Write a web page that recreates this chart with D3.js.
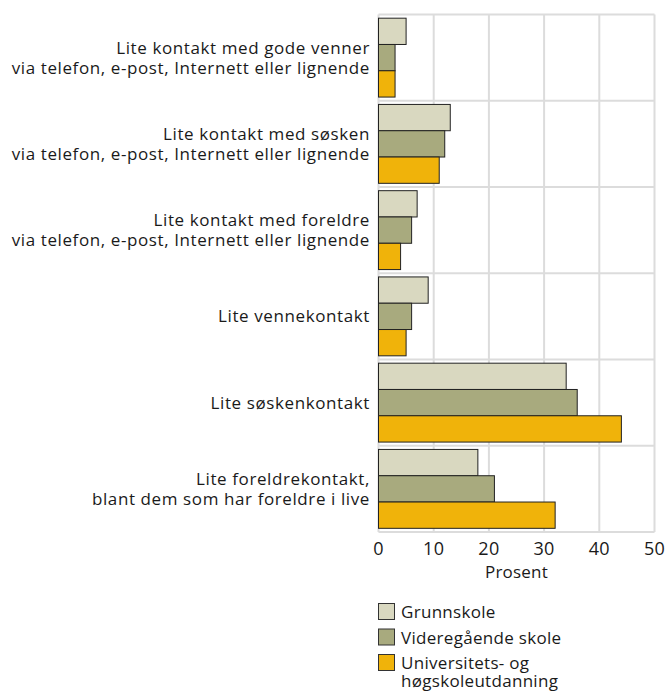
<!DOCTYPE html>
<html><head><meta charset="utf-8">
<script src="https://cdn.jsdelivr.net/npm/d3@7"></script>
<style>
body{margin:0;background:#fff;}
text{font-family:"Open Sans",sans-serif;fill:#1a1a1a;}
</style></head><body>
<svg id="c" width="667" height="691"></svg>
<script>
const categories = [
  ["Lite kontakt med gode venner","via telefon, e-post, Internett eller lignende"],
  ["Lite kontakt med søsken","via telefon, e-post, Internett eller lignende"],
  ["Lite kontakt med foreldre","via telefon, e-post, Internett eller lignende"],
  ["Lite vennekontakt"],
  ["Lite søskenkontakt"],
  ["Lite foreldrekontakt,","blant dem som har foreldre i live"]
];
const seriesNames = ["Grunnskole","Videregående skole","Universitets- og høgskoleutdanning"];
const grunnskole = [5,13,7,9,34,18];
const videregaende = [3,12,6,6,36,21];
const universitet = [3,11,4,5,44,32];
const xTicks = [0,10,20,30,40,50];
const colors = ["#d9d8c0","#a8aa7e","#f0b30a"];
const series = [grunnskole, videregaende, universitet];

const svg = d3.select("#c");
const pLeft = 378.5, pRight = 654.5, pTop = 14.5, pBottom = 532;
const x = d3.scaleLinear().domain([0,50]).range([pLeft,pRight]);
const y = d3.scaleBand().domain(d3.range(categories.length)).range([pTop,pBottom]);
const inner = d3.scaleBand().domain(d3.range(3)).range([0, y.bandwidth()]).paddingOuter(0.14).paddingInner(0);

// grid
const grid = svg.append("g").attr("stroke","#dcdcdc").attr("stroke-width",2);
xTicks.forEach(t=>grid.append("line").attr("x1",x(t)).attr("x2",x(t)).attr("y1",pTop).attr("y2",pBottom));
d3.range(categories.length+1).forEach(i=>{
  const yy = i<categories.length ? y(i) : pBottom;
  grid.append("line").attr("x1",pLeft).attr("x2",pRight).attr("y1",yy).attr("y2",yy);
});

// bars
categories.forEach((c,i)=>{
  series.forEach((s,j)=>{
    svg.append("rect")
      .attr("x",x(0)).attr("y",y(i)+inner(j))
      .attr("width",x(s[i])-x(0)).attr("height",inner.bandwidth())
      .attr("fill",colors[j]).attr("stroke","#222").attr("stroke-width",1);
  });
  const lines = c;
  const cy = y(i)+y.bandwidth()/2;
  const lh = 20;
  const t = svg.append("text").attr("text-anchor","end").attr("font-size",17).attr("letter-spacing",0.6);
  lines.forEach((l,k)=>{
    t.append("tspan").attr("x",370).attr("y",cy + (k-(lines.length-1)/2)*lh + 6).text(l);
  });
});

// axis ticks
const ax = svg.append("g");
xTicks.forEach(t=>{
  ax.append("text").attr("x",x(t)).attr("y",555).attr("text-anchor","middle").attr("font-size",18).attr("letter-spacing",0.3).text(t);
});
svg.append("text").attr("x",(pLeft+pRight)/2).attr("y",578).attr("text-anchor","middle").attr("font-size",17).attr("letter-spacing",0.2).text("Prosent");

// legend
const lg = svg.append("g");
const legRows = [["Grunnskole"],["Videregående skole"],["Universitets- og","høgskoleutdanning"]];
legRows.forEach((r,j)=>{
  const y0 = 603 + j*25.5;
  lg.append("rect").attr("x",378.5).attr("y",y0+0.5).attr("width",16).attr("height",16)
    .attr("fill",colors[j]).attr("stroke","#333").attr("stroke-width",1);
  const tt = lg.append("text").attr("font-size",17).attr("letter-spacing",0.3);
  r.forEach((l,k)=>tt.append("tspan").attr("x",401).attr("y",y0+15+k*17.7).text(l));
});
</script></body></html>
